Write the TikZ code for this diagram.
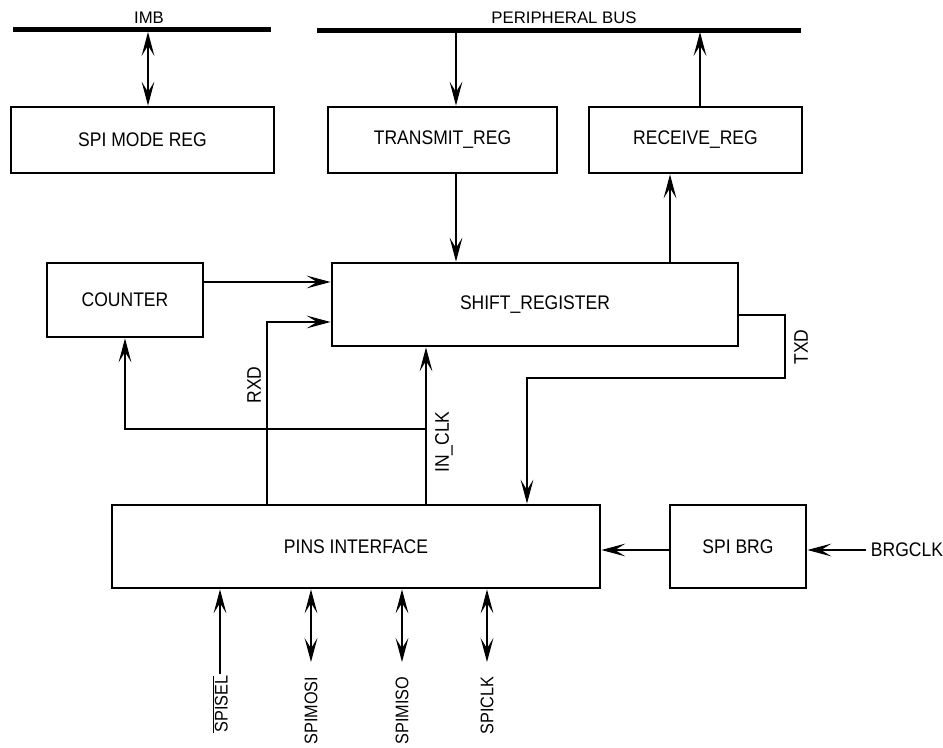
\documentclass[tikz,border=0pt]{standalone}
\usepackage{fontspec}
\setmainfont{Liberation Sans}
\newfontfamily\cond{Liberation Sans}[FakeStretch=0.89]
\usetikzlibrary{arrows.meta}

\begin{document}
\begin{tikzpicture}[x=0.025cm,y=-0.025cm,font=\cond\fontsize{14}{16}\selectfont,box/.style n args={2}{draw,line width=2pt,minimum width=#1*0.025cm,minimum height=#2*0.025cm,inner sep=0pt},bus/.style={line width=3.2pt},buslbl/.style={font=\fontsize{11.9}{14}\selectfont},arr/.style={-{Stealth[length=6mm,width=3.2mm,inset=2.6mm]},line width=0.8pt},dbl/.style={{Stealth[length=6mm,width=3.2mm,inset=2.6mm]}-{Stealth[length=6mm,width=3.2mm,inset=2.6mm]},line width=0.8pt},sig/.style={rotate=90,anchor=east,inner sep=1pt,font=\cond\fontsize{13}{15}\selectfont}]
\useasboundingbox (0,0) rectangle (943,748);
% buses
\coordinate (imbL) at (13,29.5);\coordinate (imbR) at (271,29.5);
\coordinate (pbL) at (317,30.5);\coordinate (pbR) at (801,30.5);
\draw[bus] (imbL)--(imbR);\draw[bus] (pbL)--(pbR);
\node[buslbl] (imb) at (149,18) {IMB};
\node[buslbl] (pb) at (564,18) {PERIPHERAL BUS};
% blocks
\node[box={263}{66}] (mode) at (142.5,140) {SPI MODE REG};
\node[box={229}{66}] (tx) at (442.5,140) {TRANSMIT\_REG};
\node[box={213}{66}] (rx) at (695.5,140) {RECEIVE\_REG};
\node[box={156}{74}] (cnt) at (125,300) {COUNTER};
\node[box={406}{83}] (shift) at (535,304.5) {SHIFT\_REGISTER};
\node[box={488}{83}] (pins) at (356,546.5) {PINS INTERFACE};
\node[box={136}{83}] (brg) at (738,546.5) {SPI BRG};
% bus taps
\coordinate (imbtap) at (148,32);\coordinate (txtap) at (456,32);\coordinate (rxtap) at (700,32);\coordinate (rxup) at (670,0);
\draw[dbl] (imbtap)--(imbtap |- mode.north);
\draw[arr] (txtap)--(txtap |- tx.north);
\draw[arr] (rxtap |- rx.north)--(rxtap);
\draw[arr] (txtap |- tx.south)--(txtap |- shift.north);
\draw[arr] (rxup |- shift.north)--(rxup |- rx.south);
% shift register inputs/outputs
\coordinate (cin) at (0,282);
\draw[arr] (cnt.east |- cin)--(shift.west |- cin);
\coordinate (rxd) at (267,322);
\draw[arr] (rxd |- pins.north)--(rxd)--(shift.west |- rxd);
\node[rotate=90] (rxdlbl) at (254,385) {RXD};
\coordinate (clk) at (426,429);
\draw[arr] (clk |- pins.north)--(clk |- shift.south);
\draw[arr] (clk)--(cnt.south |- clk)--(cnt.south);
\node[rotate=90] (clklbl) at (444,442) {IN\_CLK};
\coordinate (txd1) at (785,315);\coordinate (txd2) at (527,378);
\draw[arr] (shift.east |- txd1)--(txd1)--(txd1 |- txd2)--(txd2)--(txd2 |- pins.north);
\node[rotate=90] (txdlbl) at (801,347) {TXD};
% baud rate generator
\coordinate (brgy) at (0,550);
\draw[arr] (brg.west |- brgy)--(pins.east |- brgy);
\node[anchor=west] (brgclk) at (866,550) {BRGCLK};
\draw[arr] (brgclk.west)--(brg.east |- brgclk.west);
% pins
\node[sig] (sel) at (220,674) {$\overline{\mbox{SPISEL}}$};
\node[sig] (mosi) at (311,675) {SPIMOSI};
\node[sig] (miso) at (402,675) {SPIMISO};
\node[sig] (sclk) at (487,675) {SPICLK};
\coordinate (mosiend) at (311,662);\coordinate (misoend) at (402,662);\coordinate (sclkend) at (487,662);
\draw[arr] (sel.east)--(sel.east |- pins.south);
\draw[dbl] (mosiend)--(mosiend |- pins.south);
\draw[dbl] (misoend)--(misoend |- pins.south);
\draw[dbl] (sclkend)--(sclkend |- pins.south);
\end{tikzpicture}
\end{document}
